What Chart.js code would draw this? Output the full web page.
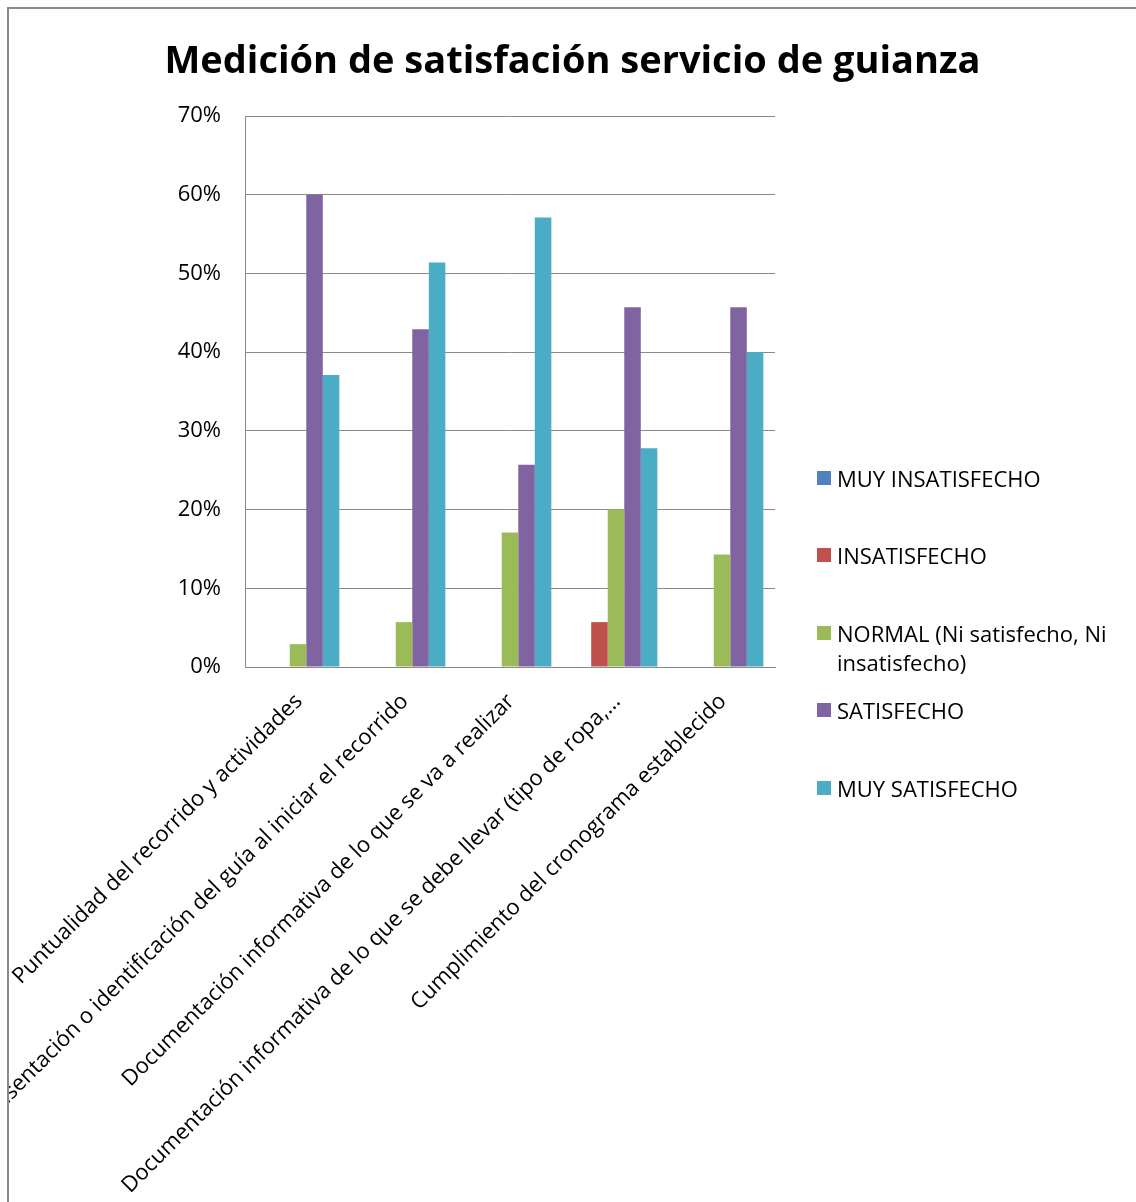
<!DOCTYPE html>
<html>
<head>
<meta charset="utf-8">
<script src="https://cdn.jsdelivr.net/npm/chart.js@4.4.0/dist/chart.umd.min.js"></script>
<style>
  html, body { margin: 0; padding: 0; background: #fff; overflow: hidden; }
  #wrap { position: relative; width: 1136px; height: 1202px; overflow: hidden; }
  #frame { position: absolute; left: 7px; top: 7px; width: 1400px; height: 1400px;
           border-left: 2px solid #8a8a8a; border-top: 2px solid #8a8a8a; }
  #chart { position: absolute; left: 0; top: 0; }
  #title { position: absolute; left: 0; width: 1145px; top: 35px; text-align: center;
           font: bold 38px "Open Sans", sans-serif; line-height: 46px; color: #000; }
  .item { position: absolute; left: 817px; width: 310px; font: 22px "Open Sans", sans-serif;
          color: #000; line-height: 29px; }
  .sw { position: absolute; left: 0; top: 7px; width: 14px; height: 14px; }
  .txt { margin-left: 20px; width: 300px; }
</style>
</head>
<body>
<div id="wrap">
  <div id="frame"></div>
  <canvas id="chart" width="1136" height="1202"></canvas>
  <div id="title"></div>
  <div id="legend"></div>
</div>
<script>
// categories and series (percent)
const titleText = "Medición de satisfación servicio de guianza";

const categories = [
  "Puntualidad del recorrido y actividades",
  "Presentación o identificación del guía al iniciar el recorrido",
  "Documentación informativa de lo que se va a realizar",
  "Documentación informativa de lo que se debe llevar (tipo de ropa,...",
  "Cumplimiento del cronograma establecido"
];

const seriesNames = [
  "MUY INSATISFECHO",
  "INSATISFECHO",
  "NORMAL (Ni satisfecho, Ni insatisfecho)",
  "SATISFECHO",
  "MUY SATISFECHO"
];

const muyInsatisfecho = [0, 0, 0, 0, 0];
const insatisfecho = [0, 0, 0, 5.7, 0];
const normal = [2.9, 5.7, 17.1, 20, 14.3];
const satisfecho = [60, 42.9, 25.7, 45.7, 45.7];
const muySatisfecho = [37.1, 51.4, 57.1, 27.8, 40];

const yTicks = [0, 10, 20, 30, 40, 50, 60, 70];

const colors = ["#4F81BD", "#C0504D", "#9BBB59", "#8064A2", "#4BACC6"];

const allSeries = [muyInsatisfecho, insatisfecho, normal, satisfecho, muySatisfecho];

// rotated category labels under the axis
const xLabelPlugin = {
  id: "xLabels",
  afterDraw(chart) {
    const ctx = chart.ctx;
    const xs = chart.scales.x;
    ctx.save();
    ctx.beginPath();
    ctx.rect(9, 0, chart.width, chart.height);
    ctx.clip();
    ctx.font = '22px "Open Sans", sans-serif';
    ctx.fillStyle = "#000";
    ctx.textAlign = "right";
    ctx.textBaseline = "middle";
    categories.forEach((c, i) => {
      const x = xs.getPixelForValue(i);
      ctx.save();
      ctx.translate(x + 1, xs.top + 31);
      ctx.rotate(-Math.PI / 4);
      ctx.fillText(c, 0, 0);
      ctx.restore();
    });
    ctx.restore();
  }
};

const datasets = seriesNames.map((name, i) => ({
  label: name,
  data: allSeries[i],
  backgroundColor: colors[i],
  borderWidth: 0,
  categoryPercentage: 0.78,
  barPercentage: 1.0
}));

document.getElementById("title").textContent = titleText;

new Chart(document.getElementById("chart"), {
  type: "bar",
  data: { labels: categories, datasets: datasets },
  plugins: [xLabelPlugin],
  options: {
    responsive: false,
    animation: false,
    layout: { padding: { left: 0, right: 361, top: 116, bottom: 0 } },
    plugins: {
      legend: { display: false },
      tooltip: { enabled: false },
      title: { display: false }
    },
    scales: {
      x: {
        grid: { display: false },
        border: { display: true, color: "#8a8a8a", width: 1 },
        ticks: { display: false },
        afterFit(s) { s.height = 535; }
      },
      y: {
        min: yTicks[0],
        max: yTicks[yTicks.length - 1],
        afterBuildTicks(s) { s.ticks = yTicks.map(v => ({ value: v })); },
        ticks: {
          callback: v => v + "%",
          padding: 24,
          color: "#000",
          font: { family: '"Open Sans", sans-serif', size: 22 }
        },
        grid: { color: "#8a8a8a", drawTicks: false, lineWidth: 1 },
        border: { color: "#8a8a8a", width: 1 },
        afterFit(s) { s.width = 245; }
      }
    }
  }
});

// legend on the right
const legend = document.getElementById("legend");
seriesNames.forEach((name, i) => {
  const item = document.createElement("div");
  item.className = "item";
  item.style.top = (478 - 14.5 + i * 77.5) + "px";
  const sw = document.createElement("div");
  sw.className = "sw";
  sw.style.background = colors[i];
  const txt = document.createElement("div");
  txt.className = "txt";
  txt.textContent = name;
  item.appendChild(sw);
  item.appendChild(txt);
  legend.appendChild(item);
});
</script>
</body>
</html>
